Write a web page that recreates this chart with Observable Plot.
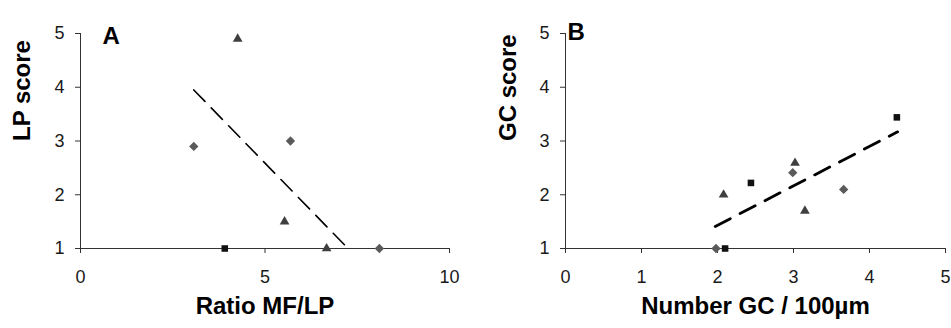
<!DOCTYPE html>
<html>
<head>
<meta charset="utf-8">
<script src="https://cdn.jsdelivr.net/npm/d3@7"></script>
<script src="https://cdn.jsdelivr.net/npm/@observablehq/plot@0.6"></script>
<style>
  html, body { margin: 0; padding: 0; background: #fff; }
  #wrap { position: relative; width: 951px; height: 328px; overflow: hidden; }
  #panelA, #panelB { position: absolute; top: 0; }
  #panelA { left: 0; width: 476px; }
  #panelB { left: 476px; width: 475px; }
  svg { overflow: visible; }
</style>
</head>
<body>
<div id="wrap">
  <div id="panelA"></div>
  <div id="panelB"></div>
</div>
<script>
// Panel A: LP score against the MF/LP ratio
const ratioMFLP = [3.07, 4.26, 5.69, 5.53, 3.91, 6.67, 8.10];
const lpScore   = [2.90, 4.90, 3.00, 1.50, 1.00, 1.00, 1.00];
const groupA    = ["G1", "G2", "G1", "G2", "G3", "G2", "G1"];
const trendAX   = [3.07, 7.25];
const trendAY   = [3.95, 1.00];

// Panel B: GC score against the number of GC per 100 µm
const gcNumber  = [1.98, 2.10, 2.08, 2.44, 3.02, 2.99, 3.15, 3.66, 4.36];
const gcScore   = [1.00, 1.00, 2.00, 2.22, 2.59, 2.41, 1.70, 2.10, 3.44];
const groupB    = ["G1", "G3", "G2", "G3", "G2", "G1", "G2", "G1", "G3"];
const trendBX   = [1.97, 4.37];
const trendBY   = [1.41, 3.17];

const yTicks  = [1, 2, 3, 4, 5];
const xTicksA = [0, 5, 10];
const xTicksB = [0, 1, 2, 3, 4, 5];

// Marker look per group: diamond (grey), triangle (dark grey), square (black)
const markerStyle = {
  G1: {symbol: "diamond2", fill: "#5a5a5a", r: 4.2},
  G2: {symbol: "triangle", fill: "#3f3f3f", r: 3.6},
  G3: {symbol: "square",   fill: "#111111", r: 3.7}
};

const font = "'Liberation Sans', Arial, sans-serif";

function panel({xs, ys, grp, tx, ty, xDomain, xTicks, xTitle, yTitle, letter, yTitleX,
                width, marginLeft, marginRight, dash, lineWidth, letterDx, letterDy}) {
  const pts = xs.map((x, i) => ({x, y: ys[i], g: grp[i]}));
  const trend = tx.map((x, i) => ({x, y: ty[i]}));
  const dots = Object.entries(markerStyle).map(([g, s]) =>
    Plot.dot(pts.filter(d => d.g === g), {x: "x", y: "y", symbol: s.symbol, fill: s.fill, r: s.r, stroke: null})
  );
  return Plot.plot({
    width, height: 328,
    marginLeft, marginRight, marginTop: 33, marginBottom: 80,
    x: {domain: xDomain},
    y: {domain: [1, 5]},
    style: {fontFamily: font, fontSize: "18px", color: "#1a1a1a", background: "white", overflow: "visible"},
    marks: [
      Plot.axisY({ticks: yTicks, tickFormat: d3.format("d"), tickSize: 5, tickPadding: 11, label: null, stroke: "#333"}),
      Plot.axisX({ticks: xTicks, tickFormat: d3.format("d"), tickSize: 5, tickPadding: 17, label: null, stroke: "#333"}),
      Plot.ruleX([xDomain[0]], {y1: 1, y2: 5, stroke: "#333"}),
      Plot.ruleY([1], {x1: xDomain[0], x2: xDomain[1], stroke: "#333"}),
      Plot.line(trend, {x: "x", y: "y", stroke: "#000", strokeWidth: lineWidth, strokeDasharray: dash}),
      ...dots,
      Plot.text([xTitle], {frameAnchor: "bottom", dy: 65, fontSize: 24, fontWeight: "bold", fill: "#000"}),
      Plot.text([yTitle], {frameAnchor: "left", rotate: -90, dx: yTitleX - marginLeft, fontSize: 24, fontWeight: "bold", fill: "#000"}),
      Plot.text([letter], {frameAnchor: "top-left", textAnchor: "start", dx: letterDx, dy: letterDy, fontSize: 24, fontWeight: "bold", fill: "#000"})
    ]
  });
}

document.getElementById("panelA").append(panel({
  xs: ratioMFLP, ys: lpScore, grp: groupA, tx: trendAX, ty: trendAY,
  xDomain: [0, 10], xTicks: xTicksA, xTitle: "Ratio MF/LP", yTitle: "LP score", letter: "A", yTitleX: 22,
  width: 476, marginLeft: 80, marginRight: 27, dash: "16,9", lineWidth: 1.6,
  letterDx: 22, letterDy: -7
}));

document.getElementById("panelB").append(panel({
  xs: gcNumber, ys: gcScore, grp: groupB, tx: trendBX, ty: trendBY,
  xDomain: [0, 5], xTicks: xTicksB, xTitle: "Number GC / 100µm", yTitle: "GC score", letter: "B", yTitleX: 32,
  width: 475, marginLeft: 89, marginRight: 6, dash: "17,11", lineWidth: 2.8,
  letterDx: 2, letterDy: -11
}));
</script>
</body>
</html>
